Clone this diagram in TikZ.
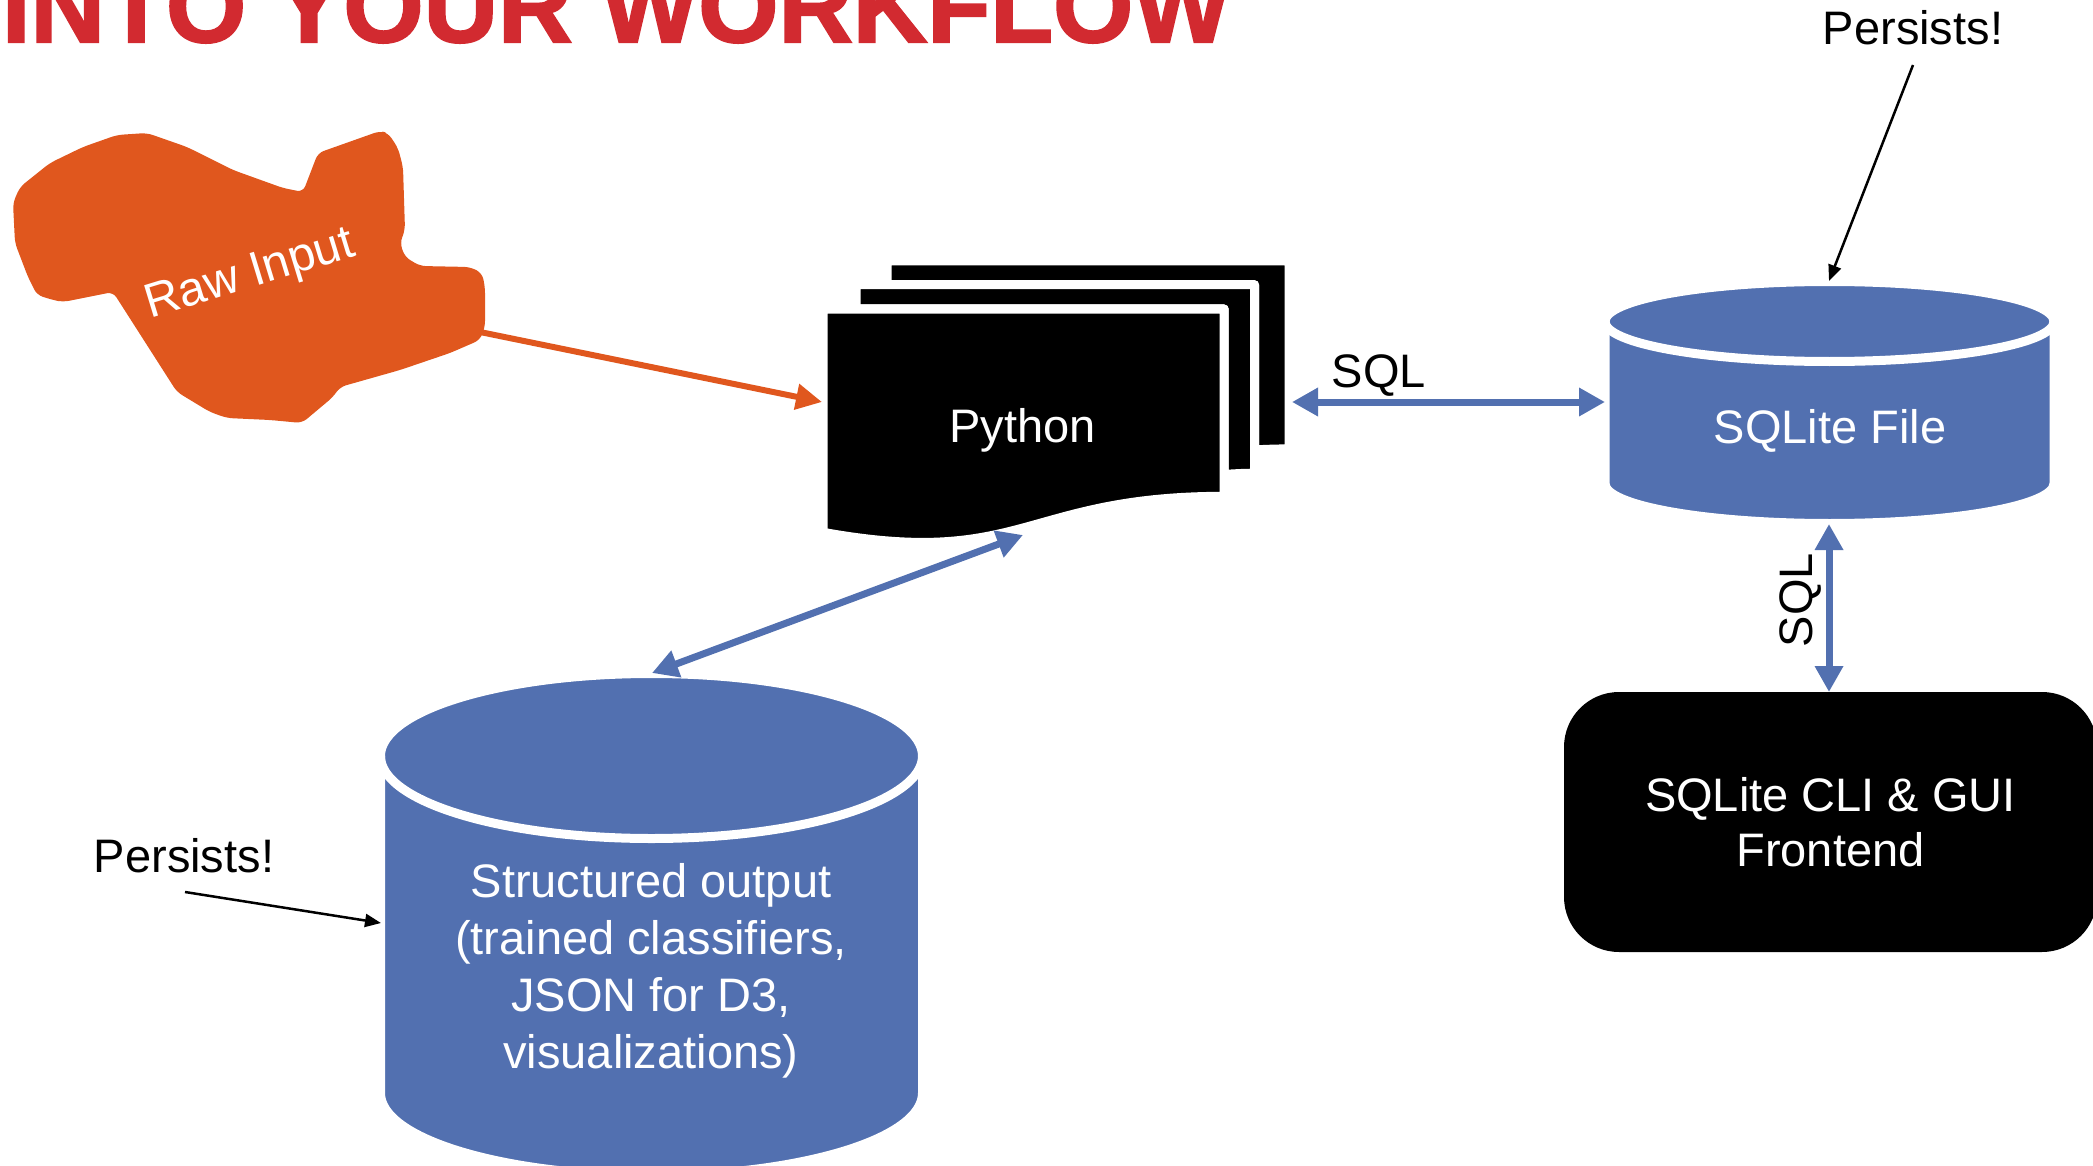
\documentclass[tikz,border=0pt]{standalone}
\usepackage{fontspec}
\setmainfont{Liberation Sans}
\newfontfamily\titlefont[BoldFeatures={FakeBold=2}]{Liberation Sans}
\usetikzlibrary{arrows.meta}
\definecolor{dbblue}{RGB}{82,112,176}
\definecolor{rawor}{RGB}{224,87,30}
\definecolor{titlered}{RGB}{210,42,48}
\begin{document}
\begin{tikzpicture}[x=0.5pt,y=-0.5pt,
  lbl/.style={font=\fontsize{23.5pt}{28.5pt}\selectfont, inner sep=0pt},
  wlbl/.style={lbl, text=white},
  blueline/.style={draw=dbblue, line width=3.5pt,
    {Triangle[length=13pt,width=13.5pt]}-{Triangle[length=13pt,width=13.5pt]}},
  orline/.style={draw=rawor, line width=3pt, -{Triangle[length=13pt,width=12.5pt]}},
  thinarrow/.style={draw=black, line width=1.25pt, -{Triangle[length=8pt,width=6.5pt]}},
  docsheet/.style={fill=black, draw=white, line width=4.5pt, line join=round},
  canbody/.style={fill=dbblue, draw=white, line width=4.5pt},
  canrim/.style={draw=white, line width=4.5pt}]
\useasboundingbox (0,0) rectangle (2093,1166);
\clip (0,0) rectangle (2093,1166);

% heading, cut off at the top edge
\node[anchor=base west, inner sep=0pt, text=titlered] (title) at (1.5,42)
  {\resizebox{614pt}{!}{\titlefont\bfseries INTO YOUR WORKFLOW}};

% raw input blob
\fill[rawor, rounded corners=3pt]
  (20,187) -- (50,163) -- (83,147) -- (117,135) -- (147,133) -- (187,147)
  -- (233,170) -- (283,188) -- (303,192) -- (318,153) -- (380,131) -- (388,133)
  -- (398,148) -- (403,167) -- (405,230) -- (400,243) -- (405,257) -- (420,266)
  -- (470,267) -- (482,273) -- (485,287) -- (485,327) -- (480,340) -- (450,353)
  -- (400,370) -- (340,387) -- (333,397) -- (302,423) -- (270,420) -- (227,418)
  -- (210,412) -- (177,392) -- (113,292) -- (63,302) -- (53,300) -- (37,295)
  -- (28,277) -- (15,243) -- (13,203) -- cycle;
\node[wlbl, rotate=17, anchor=base, font=\fontsize{24pt}{28.5pt}\selectfont] (rawin) at (254,287) {Raw Input};

% python: stack of documents
\path[docsheet] (887.1,284.7) -- (887.1,261) -- (1289,261) -- (1289,448.9)
  .. controls (1271.7,448.9) and (1254.5,449.9) .. (1254.5,449.9) -- (1254.5,284.7) -- cycle;
\path[docsheet] (856,309) -- (856,284.7) -- (1254.5,284.7) -- (1254.5,473.2)
  .. controls (1239.3,473.2) and (1224.2,474.5) .. (1224.2,474.5) -- (1224.2,309) -- cycle;
\path[docsheet] (823,309) -- (1224.2,309) -- (1224.2,496.3)
  .. controls (1023.6,496.3) and (1023.6,568.4) .. (823,532.3) -- cycle;
\node[wlbl, anchor=base] (python) at (1022.5,442) {Python};

% SQLite file
\path[canbody] (1605,321.5) -- (1605,483.5)
  arc[start angle=180, end angle=0, x radius=224.5, y radius=40] -- (2054,321.5)
  arc[start angle=0, end angle=-180, x radius=224.5, y radius=40] -- cycle;
\draw[canrim] (1605,321.5) arc[start angle=180, end angle=0, x radius=224.5, y radius=40];
\node[wlbl, anchor=base] (sqlfile) at (1830,443) {SQLite File};

% structured output store
\path[canbody] (380.5,756) -- (380.5,1093)
  arc[start angle=180, end angle=0, x radius=271, y radius=82.5] -- (922.5,756)
  arc[start angle=0, end angle=-180, x radius=271, y radius=82.5] -- cycle;
\draw[canrim] (380.5,756) arc[start angle=180, end angle=0, x radius=271, y radius=82.5];
\node[wlbl, align=center, anchor=base] (structured) at (651,1068)
  {Structured output\\(trained classifiers,\\JSON for D3,\\visualizations)};

% command line and GUI frontend
\node[wlbl, fill=black, rounded corners=27.5pt, minimum width=266.5pt,
  minimum height=130pt, align=center, font=\fontsize{23.5pt}{27.5pt}\selectfont] (cli)
  at (1830.5,822) {SQLite CLI \& GUI\\Frontend};

% annotations
\node[lbl, anchor=base] (persistA) at (1913,45) {Persists!};
\node[lbl, anchor=base] (persistB) at (184,872) {Persists!};
\node[lbl, anchor=base] (sqlh) at (1379,387) {SQL};
\node[lbl, anchor=base, rotate=90] (sqlv) at (1812,600) {SQL};

% connector end points
\coordinate (raw-e) at (480,332);
\coordinate (py-w) at (822,402);
\coordinate (py-e) at (1292,402);
\coordinate (py-s) at (1023,535);
\coordinate (so-n) at (652,673);
\coordinate (so-w) at (381,923);
\coordinate (sf-w) at (1605,402);
\coordinate (sf-s) at (1829,524);
\coordinate (sf-n) at (1829,281);
\coordinate (cli-n) at (1829,692);
\coordinate (pA-tail) at (1913,65);
\coordinate (pB-tail) at (185,892);

% connectors
\draw[orline] (raw-e) -- (py-w);
\draw[blueline] (py-e) -- (sf-w);
\draw[blueline] (sf-s) -- (cli-n);
\draw[blueline] (py-s) -- (so-n);
\draw[thinarrow] (pA-tail) -- (sf-n);
\draw[thinarrow] (pB-tail) -- (so-w);
\end{tikzpicture}
\end{document}
